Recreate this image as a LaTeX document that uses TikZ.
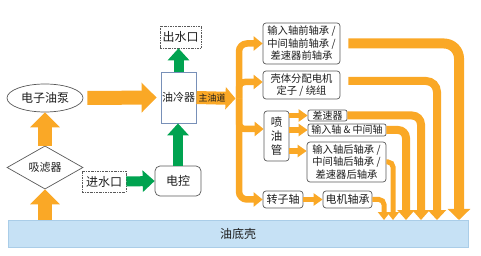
\documentclass[tikz,border=0pt]{standalone}
\usepackage{fontspec}
\setmainfont{Noto Sans CJK SC}
\usepackage{xcolor}
\usepackage{tikz}
\usetikzlibrary{shapes.geometric}
\usetikzlibrary{arrows.meta}
\usetikzlibrary{positioning}

\definecolor{oilorg}{RGB}{250,168,38}
\definecolor{watgrn}{RGB}{0,163,80}
\definecolor{linegray}{RGB}{90,90,90}
\definecolor{coolblue}{RGB}{120,144,184}
\definecolor{sumpblue}{RGB}{198,225,245}
\definecolor{sumpline}{RGB}{170,205,232}
\definecolor{inkblack}{RGB}{30,30,30}

\begin{document}
\begin{tikzpicture}[x=1pt, y=-1pt,
    every node/.style={text=inkblack, inner sep=0pt},
    box/.style={draw=linegray, fill=white, rounded corners=3pt, line width=0.7pt, align=center, font=\fontsize{10.3}{12.5}\selectfont},
    inlet/.style={draw=linegray, fill=white, line width=0.6pt, dash pattern=on 2pt off 1pt on 0.6pt off 1pt, font=\fontsize{12}{14}\selectfont},
    oil/.style={draw=oilorg, line width=14pt, -{Triangle[length=15pt, width=29pt]}},
    water/.style={draw=watgrn, line width=10pt, -{Triangle[length=12pt, width=21pt]}},
    feed/.style={draw=oilorg, line width=6.5pt, rounded corners=6pt, -{Triangle[length=9pt, width=14pt]}},
    ret/.style={draw=oilorg},
  ]
\useasboundingbox (0,0) rectangle (481,256);

  % left side: pump, filter, cooler
  \node[inlet, minimum width=41pt, minimum height=22pt] (outw) at (180.5,37) {出水口};
  \node[draw=coolblue, fill=white, line width=0.8pt, minimum width=35pt, minimum height=51pt, font=\fontsize{11}{13}\selectfont] (cool) at (178.5,97.5) {油冷器};
  \node[box, rounded corners=5pt, minimum width=46pt, minimum height=30pt, font=\fontsize{12}{14}\selectfont] (ecu) at (178,181) {电控};
  \node[inlet, minimum width=44pt, minimum height=21pt] (inw) at (104,181.5) {进水口};
  \node[ellipse, draw=linegray, fill=white, line width=0.7pt, minimum width=76pt, minimum height=28pt, font=\fontsize{12}{14}\selectfont] (pump) at (45,98) {电子油泵};
  \node[diamond, draw=linegray, fill=white, line width=0.7pt, minimum width=76pt, minimum height=27pt, font=\fontsize{11}{13}\selectfont] (filt) at (45,167.5) {吸滤器};
  \node[draw=sumpline, fill=sumpblue, line width=0.7pt, minimum width=460pt, minimum height=27pt, font=\fontsize{12}{14}\selectfont] (sump) at (238,233.5) {油底壳};

  % right side: consumers
  \node[box, minimum width=77pt, minimum height=41pt] (frontbrg) at (301.5,43.5) {输入轴前轴承 /\\中间轴前轴承 /\\差速器前轴承};
  \node[box, minimum width=77pt, minimum height=28pt] (stator) at (301.5,85) {壳体分配电机\\定子 / 绕组};
  \node[box, minimum width=25pt, minimum height=50pt, font=\fontsize{11.5}{14}\selectfont] (spray) at (276.5,136) {喷\\油\\管};
  \node[box, rounded corners=2pt, minimum width=39pt, minimum height=11pt, font=\fontsize{10}{11}\selectfont] (diff) at (327.5,115.5) {差速器};
  \node[box, rounded corners=2pt, minimum width=78pt, minimum height=12pt, font=\fontsize{10}{11}\selectfont] (gears) at (347,130) {输入轴 \& 中间轴};
  \node[box, minimum width=79pt, minimum height=40pt] (rearbrg) at (346.5,162) {输入轴后轴承 /\\中间轴后轴承 /\\差速器后轴承};
  \node[box, minimum width=40pt, minimum height=17pt, font=\fontsize{11}{13}\selectfont] (rotor) at (283,199.5) {转子轴};
  \node[box, minimum width=49pt, minimum height=17pt, font=\fontsize{11}{13}\selectfont] (motbrg) at (347.5,199.5) {电机轴承};

  \coordinate (bus) at (239,98.5);
  \coordinate (d1) at (459,220);
  \coordinate (d2) at (437,220);
  \coordinate (d3) at (421,220);
  \coordinate (d4) at (406,220);
  \coordinate (d5) at (393,220);
  \coordinate (d6) at (384,220);

  % oil and water
  \draw[oil] ([xshift=4pt]pump.east) -- ([xshift=-4pt]cool.west);
  \draw[oil] (filt.north) -- (pump.south);
  \draw[oil] (filt |- sump.north) -- (filt.south);
  \draw[water] (cool.north) -- (cool.north |- outw.south);
  \draw[water] (ecu.north) -- (ecu.north |- cool.south);
  \draw[water] (inw.east) -- (ecu.west);

  \draw[feed, line width=13pt, -{Triangle[length=10pt, width=22pt]}] (cool.east) -- node[pos=0.4, font=\fontsize{9}{10}\selectfont] (mainlbl) {主油道} ([xshift=-3.5pt]bus);
  \draw[feed, rounded corners=8pt] (bus) |- (frontbrg.west);
  \draw[feed] (bus) |- ([yshift=3pt]stator.west);
  \draw[feed] (bus) |- ([yshift=7pt]spray.west);
  \draw[feed, rounded corners=8pt] (bus) |- (rotor.west);
  \draw[feed, line width=5.5pt, -{Triangle[length=9pt, width=12pt]}] (spray.east |- diff.west) -- (diff.west);
  \draw[feed, line width=5.5pt, -{Triangle[length=9pt, width=12pt]}] (spray.east |- gears.west) -- (gears.west);
  \draw[feed, line width=5.5pt, -{Triangle[length=9pt, width=12pt]}] ([yshift=11pt]rearbrg.west -| spray.east) -- ([yshift=11pt]rearbrg.west);
  \draw[feed, line width=5.5pt, -{Triangle[length=9pt, width=12pt]}] (rotor.east) -- (motbrg.west);

  % back to the sump
  \draw[ret, line width=10pt, rounded corners=15pt, -{Triangle[length=11pt, width=22pt]}] ([xshift=8pt]frontbrg.east) -| (d1);
  \draw[ret, line width=8pt, rounded corners=11pt, -{Triangle[length=10pt, width=18pt]}] ([xshift=8pt, yshift=4pt]stator.east) -| (d2);
  \draw[ret, line width=8pt, rounded corners=9pt, -{Triangle[length=10pt, width=17pt]}] (diff.east) -| (d3);
  \draw[ret, line width=8pt, rounded corners=8pt, -{Triangle[length=10pt, width=17pt]}] (gears.east) -| (d4);
  \draw[ret, line width=5pt, rounded corners=5pt, -{Triangle[length=8pt, width=12pt]}] (rearbrg.east) -| (d5);
  \draw[ret, line width=5pt, rounded corners=5pt, -{Triangle[length=8pt, width=12pt]}] (motbrg.east) -| (d6);

\end{tikzpicture}
\end{document}
